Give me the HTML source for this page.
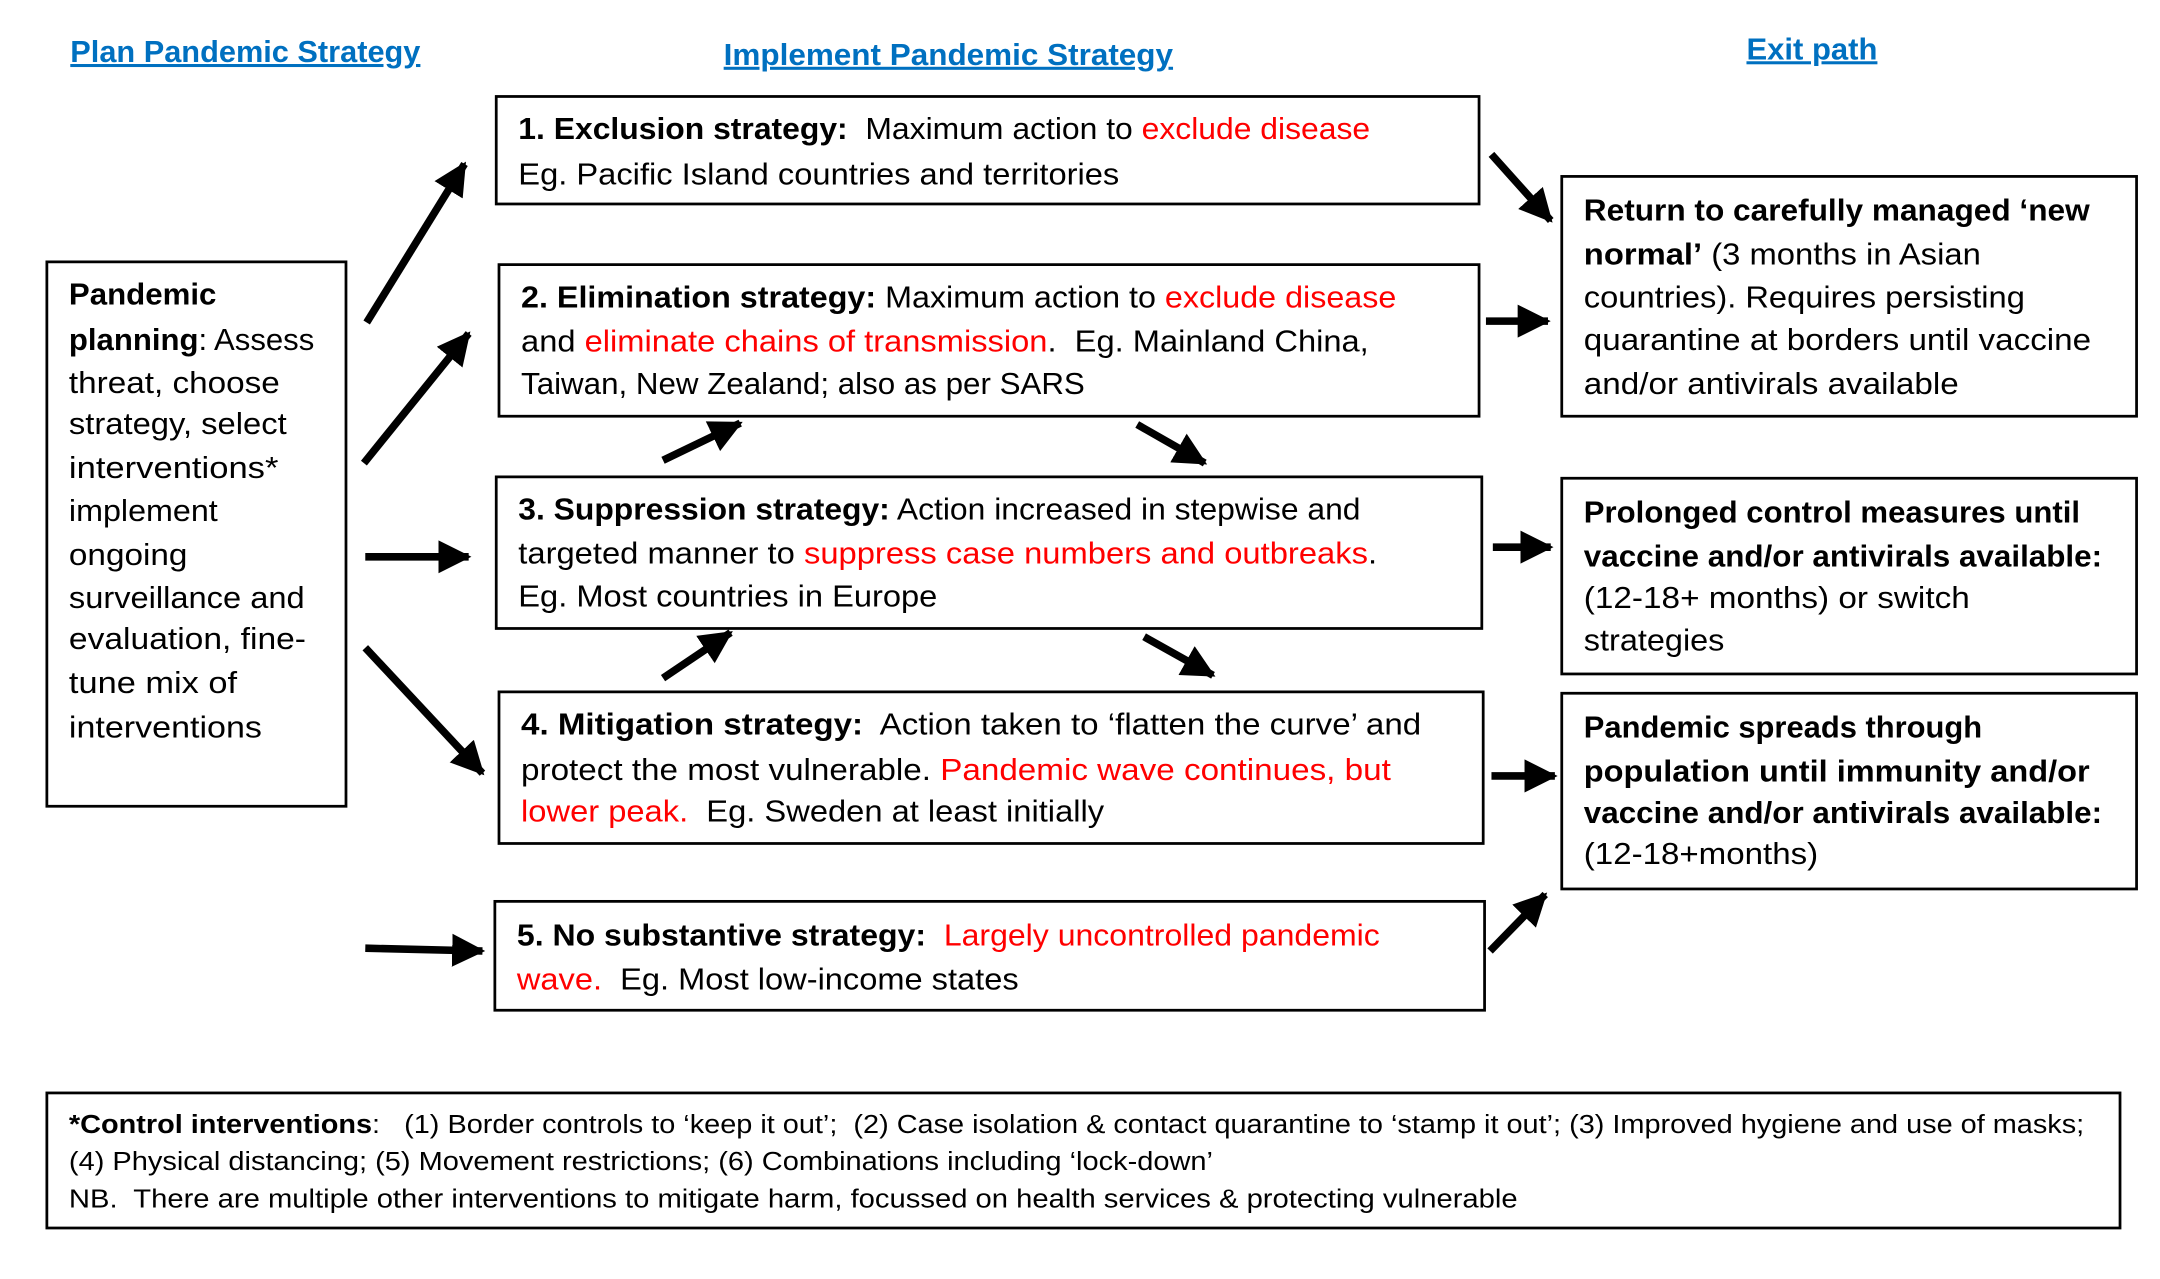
<!DOCTYPE html>
<html><head><meta charset="utf-8"><style>
html,body{margin:0;padding:0;background:#fff;}
svg{display:block;}
text{font-family:"Liberation Sans",sans-serif;font-size:22px;fill:#000;white-space:pre;}
.b{font-weight:bold;}
.r{fill:#ff0000;}
.h{fill:#0070C0;font-weight:bold;text-decoration:underline;font-size:22px;}
.s{font-size:19px;}
rect{fill:#fff;stroke:#000;stroke-width:2;}
line{stroke:#000;stroke-width:5.5;marker-end:url(#ah);}
</style></head><body>
<svg width="2160" height="1279" viewBox="0 0 1567 928" preserveAspectRatio="none" xmlns="http://www.w3.org/2000/svg">
<defs><marker id="ah" markerUnits="userSpaceOnUse" markerWidth="28" markerHeight="28" refX="22" refY="13" orient="auto"><path d="M0,1 L24,13 L0,25 Z" fill="#000"/></marker></defs>

<text class="h" x="51" y="45" textLength="254" lengthAdjust="spacingAndGlyphs">Plan Pandemic Strategy</text>
<text class="h" x="525" y="47" textLength="326" lengthAdjust="spacingAndGlyphs">Implement Pandemic Strategy</text>
<text class="h" x="1267" y="43" textLength="95" lengthAdjust="spacingAndGlyphs">Exit path</text>

<rect x="34" y="190" width="217" height="395"/>
<text x="50" y="221" textLength="107" lengthAdjust="spacingAndGlyphs" class="b">Pandemic</text>
<text x="50" y="254" textLength="178" lengthAdjust="spacingAndGlyphs"><tspan class="b">planning</tspan>: Assess</text>
<text x="50" y="285" textLength="153" lengthAdjust="spacingAndGlyphs">threat, choose</text>
<text x="50" y="315" textLength="158" lengthAdjust="spacingAndGlyphs">strategy, select</text>
<text x="50" y="347" textLength="152" lengthAdjust="spacingAndGlyphs">interventions*</text>
<text x="50" y="378" textLength="108" lengthAdjust="spacingAndGlyphs">implement</text>
<text x="50" y="410" textLength="86" lengthAdjust="spacingAndGlyphs">ongoing</text>
<text x="50" y="441" textLength="171" lengthAdjust="spacingAndGlyphs">surveillance and</text>
<text x="50" y="471" textLength="172" lengthAdjust="spacingAndGlyphs">evaluation, fine-</text>
<text x="50" y="503" textLength="122" lengthAdjust="spacingAndGlyphs">tune mix of</text>
<text x="50" y="535" textLength="140" lengthAdjust="spacingAndGlyphs">interventions</text>

<rect x="360" y="70" width="713" height="78"/>
<text x="376" y="101" textLength="618" lengthAdjust="spacingAndGlyphs"><tspan class="b">1. Exclusion strategy:</tspan>  Maximum action to <tspan class="r">exclude disease</tspan></text>
<text x="376" y="134" textLength="436" lengthAdjust="spacingAndGlyphs">Eg. Pacific Island countries and territories</text>

<rect x="362" y="192" width="711" height="110"/>
<text x="378" y="223" textLength="635" lengthAdjust="spacingAndGlyphs"><tspan class="b">2. Elimination strategy:</tspan> Maximum action to <tspan class="r">exclude disease</tspan></text>
<text x="378" y="255" textLength="615" lengthAdjust="spacingAndGlyphs">and <tspan class="r">eliminate chains of transmission</tspan>.  Eg. Mainland China,</text>
<text x="378" y="286" textLength="409" lengthAdjust="spacingAndGlyphs">Taiwan, New Zealand; also as per SARS</text>

<rect x="360" y="346" width="715" height="110"/>
<text x="376" y="377" textLength="611" lengthAdjust="spacingAndGlyphs"><tspan class="b">3. Suppression strategy:</tspan> Action increased in stepwise and</text>
<text x="376" y="409" textLength="623" lengthAdjust="spacingAndGlyphs">targeted manner to <tspan class="r">suppress case numbers and outbreaks</tspan>.</text>
<text x="376" y="440" textLength="304" lengthAdjust="spacingAndGlyphs">Eg. Most countries in Europe</text>

<rect x="362" y="502" width="714" height="110"/>
<text x="378" y="533" textLength="653" lengthAdjust="spacingAndGlyphs"><tspan class="b">4. Mitigation strategy:</tspan>  Action taken to ‘flatten the curve’ and</text>
<text x="378" y="566" textLength="631" lengthAdjust="spacingAndGlyphs">protect the most vulnerable. <tspan class="r">Pandemic wave continues, but</tspan></text>
<text x="378" y="596" textLength="423" lengthAdjust="spacingAndGlyphs"><tspan class="r">lower peak.</tspan>  Eg. Sweden at least initially</text>

<rect x="359" y="654" width="718" height="79"/>
<text x="375" y="686" textLength="626" lengthAdjust="spacingAndGlyphs"><tspan class="b">5. No substantive strategy:</tspan>  <tspan class="r">Largely uncontrolled pandemic</tspan></text>
<text x="375" y="718" textLength="364" lengthAdjust="spacingAndGlyphs"><tspan class="r">wave.</tspan>  Eg. Most low-income states</text>

<rect x="1133" y="128" width="417" height="174"/>
<text x="1149" y="160" textLength="367" lengthAdjust="spacingAndGlyphs" class="b">Return to carefully managed ‘new</text>
<text x="1149" y="192" textLength="288" lengthAdjust="spacingAndGlyphs"><tspan class="b">normal’</tspan> (3 months in Asian</text>
<text x="1149" y="223" textLength="320" lengthAdjust="spacingAndGlyphs">countries). Requires persisting</text>
<text x="1149" y="254" textLength="368" lengthAdjust="spacingAndGlyphs">quarantine at borders until vaccine</text>
<text x="1149" y="286" textLength="272" lengthAdjust="spacingAndGlyphs">and/or antivirals available</text>

<rect x="1133" y="347" width="417" height="142"/>
<text x="1149" y="379" textLength="360" lengthAdjust="spacingAndGlyphs" class="b">Prolonged control measures until</text>
<text x="1149" y="411" textLength="376" lengthAdjust="spacingAndGlyphs" class="b">vaccine and/or antivirals available:</text>
<text x="1149" y="441" textLength="280" lengthAdjust="spacingAndGlyphs">(12-18+ months) or switch</text>
<text x="1149" y="472" textLength="102" lengthAdjust="spacingAndGlyphs">strategies</text>

<rect x="1133" y="503" width="417" height="142"/>
<text x="1149" y="535" textLength="289" lengthAdjust="spacingAndGlyphs" class="b">Pandemic spreads through</text>
<text x="1149" y="567" textLength="367" lengthAdjust="spacingAndGlyphs" class="b">population until immunity and/or</text>
<text x="1149" y="597" textLength="376" lengthAdjust="spacingAndGlyphs" class="b">vaccine and/or antivirals available:</text>
<text x="1149" y="627" textLength="170" lengthAdjust="spacingAndGlyphs">(12-18+months)</text>

<rect x="34" y="793" width="1504" height="98"/>
<text class="s" x="50" y="822" textLength="1462" lengthAdjust="spacingAndGlyphs"><tspan class="b">*Control interventions</tspan>:   (1) Border controls to ‘keep it out’;  (2) Case isolation &amp; contact quarantine to ‘stamp it out’; (3) Improved hygiene and use of masks;</text>
<text class="s" x="50" y="849" textLength="830" lengthAdjust="spacingAndGlyphs">(4) Physical distancing; (5) Movement restrictions; (6) Combinations including ‘lock-down’</text>
<text class="s" x="50" y="876" textLength="1051" lengthAdjust="spacingAndGlyphs">NB.  There are multiple other interventions to mitigate harm, focussed on health services &amp; protecting vulnerable</text>

<line x1="266" y1="234" x2="337" y2="119"/>
<line x1="264" y1="336" x2="340" y2="242"/>
<line x1="265" y1="404" x2="340" y2="404"/>
<line x1="265" y1="470" x2="350" y2="561"/>
<line x1="265" y1="688" x2="350" y2="690"/>
<line x1="481" y1="334" x2="537" y2="307"/>
<line x1="825" y1="308" x2="874" y2="336"/>
<line x1="481" y1="492" x2="530" y2="459"/>
<line x1="830" y1="462" x2="880" y2="490"/>
<line x1="1082" y1="112" x2="1125" y2="160"/>
<line x1="1078" y1="233" x2="1123" y2="233"/>
<line x1="1083" y1="397" x2="1125" y2="397"/>
<line x1="1082" y1="563" x2="1128" y2="563"/>
<line x1="1081" y1="690" x2="1121" y2="649"/>
</svg>
</body></html>
